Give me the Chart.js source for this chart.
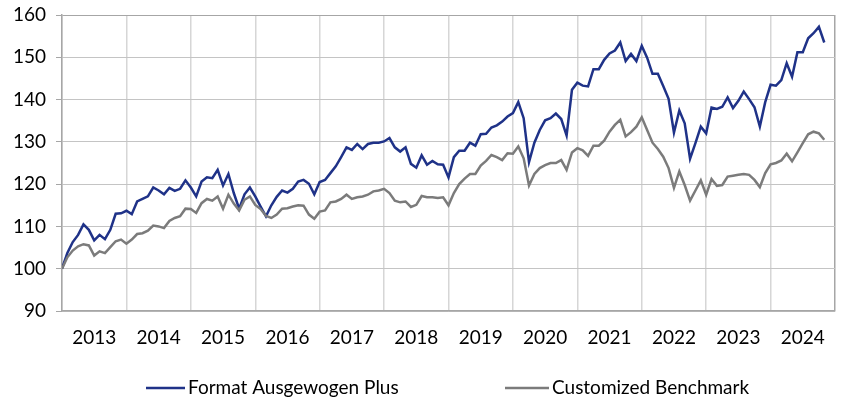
<!DOCTYPE html>
<html>
<head>
<meta charset="utf-8">
<script src="https://cdn.jsdelivr.net/npm/chart.js@4"></script>
<style>
  body { margin: 0; background: #fff; }
  #wrap { width: 850px; height: 401px; }
</style>
</head>
<body>
<div id="wrap"><canvas id="perfChart" width="850" height="401"></canvas></div>
<script>
// Monthly index values, month 0 = end of 2012 (=100)
const yearLabels = ['2013', '2014', '2015', '2016', '2017', '2018', '2019', '2020', '2021', '2022', '2023', '2024'];
const seriesNames = ['Format Ausgewogen Plus', 'Customized Benchmark'];

const fundValues = [
    100, 103.7, 106.3, 108, 110.5, 109.2, 106.7, 108, 107, 109.2,
    113, 113.1, 113.7, 112.9, 115.9, 116.5, 117.1, 119.2, 118.5, 117.6,
    119.1, 118.4, 118.9, 120.9, 119.2, 117.1, 120.6, 121.6, 121.4, 123.4,
    119.7, 122.4, 117.9, 114.2, 117.6, 119.2, 117.1, 114.7, 112.4, 115,
    117, 118.5, 118, 118.9, 120.6, 121, 120.1, 117.6, 120.5, 121,
    122.6, 124.2, 126.4, 128.7, 128.1, 129.5, 128.3, 129.5, 129.8, 129.8,
    130.1, 130.9, 128.7, 127.7, 128.7, 124.8, 123.9, 126.8, 124.6, 125.5,
    124.7, 124.6, 121.6, 126.4, 127.9, 127.9, 129.8, 129.1, 131.8, 131.9,
    133.4, 133.9, 134.8, 136, 136.8, 139.4, 135.6, 125.2, 129.8, 132.8,
    135.1, 135.6, 136.7, 135.4, 131.5, 142.3, 144, 143.3, 143.1, 147.2,
    147.2, 149.4, 150.9, 151.6, 153.5, 149.1, 150.8, 149.1, 152.7, 149.9,
    146.1, 146.1, 143.2, 140.2, 132.2, 137.4, 134.4, 126, 129.7, 133.6,
    132, 138.1, 137.8, 138.3, 140.5, 138, 139.7, 141.9, 140.1, 138.2,
    133.6, 139.4, 143.5, 143.3, 144.6, 148.6, 145.4, 151.2, 151.2, 154.5,
    155.7, 157.2, 153.5
];

const benchmarkValues = [
    100, 102.7, 104.3, 105.3, 105.8, 105.5, 103.1, 104.1, 103.7, 105.1,
    106.5, 106.9, 105.9, 106.9, 108.2, 108.4, 109, 110.2, 110, 109.6,
    111.3, 112, 112.4, 114.2, 114.1, 113.2, 115.5, 116.5, 116.1, 117.1,
    114.2, 117.5, 115.4, 113.8, 116.3, 117.1, 115.1, 114.1, 112.5, 112,
    112.8, 114.2, 114.3, 114.7, 115, 114.9, 112.8, 111.8, 113.5, 113.8,
    115.7, 115.9, 116.5, 117.5, 116.5, 116.9, 117.1, 117.5, 118.3, 118.5,
    118.9, 117.9, 116.1, 115.7, 115.9, 114.6, 115.1, 117.2, 116.9, 116.9,
    116.7, 116.9, 115, 117.9, 120, 121.3, 122.4, 122.4, 124.4, 125.5,
    126.9, 126.4, 125.7, 127.3, 127.2, 128.9, 126.1, 119.7, 122.4, 123.8,
    124.5, 125, 125, 125.7, 123.4, 127.5, 128.5, 128, 126.7, 129.1,
    129.1, 130.3, 132.4, 134, 135.2, 131.3, 132.3, 133.6, 135.8, 132.8,
    129.8, 128.3, 126.5, 123.8, 119.1, 123, 119.8, 116.1, 118.5, 120.9,
    117.5, 121.2, 119.6, 119.8, 121.8, 122, 122.2, 122.4, 122.2, 121,
    119.3, 122.6, 124.7, 125, 125.6, 127.2, 125.4, 127.5, 129.7, 131.8,
    132.4, 132, 130.5
];

const lineColors = ['#1f3288', '#7b7b7b'];
const fontFamily = 'Lato, "Open Sans", sans-serif';
const monthsTotal = yearLabels.length * 12;

function toPoints(values) {
    return values.map((v, i) => ({ x: i, y: v }));
}

// Legend drawn below the axis, Excel-style line samples
const bottomLegend = {
    id: 'bottomLegend',
    afterDraw(chart) {
        const ctx = chart.ctx;
        const items = [
            { x0: 146, x1: 185, tx: 188 },
            { x0: 505, x1: 549, tx: 552 }
        ];
        const y = 388;
        ctx.save();
        ctx.font = '19px ' + fontFamily;
        ctx.textBaseline = 'middle';
        ctx.textAlign = 'left';
        items.forEach((it, i) => {
            ctx.strokeStyle = lineColors[i];
            ctx.lineWidth = 2.5;
            ctx.beginPath();
            ctx.moveTo(it.x0, y);
            ctx.lineTo(it.x1, y);
            ctx.stroke();
            ctx.fillStyle = '#000';
            ctx.fillText(seriesNames[i], it.tx, y);
        });
        ctx.restore();
    }
};

const ctx = document.getElementById('perfChart').getContext('2d');
new Chart(ctx, {
    type: 'line',
    data: {
        datasets: [{
            label: seriesNames[0],
            data: toPoints(fundValues),
            borderColor: lineColors[0],
            borderWidth: 2.5,
            pointRadius: 0,
            tension: 0,
            order: 1
        }, {
            label: seriesNames[1],
            data: toPoints(benchmarkValues),
            borderColor: lineColors[1],
            borderWidth: 2.5,
            pointRadius: 0,
            tension: 0,
            order: 0
        }]
    },
    options: {
        responsive: false,
        animation: false,
        devicePixelRatio: 1,
        layout: { padding: { top: 15, right: 7, left: 0, bottom: 0 } },
        plugins: {
            legend: { display: false },
            tooltip: { enabled: false }
        },
        scales: {
            x: {
                type: 'linear',
                min: 0,
                max: monthsTotal,
                afterBuildTicks: function (scale) {
                    const t = [];
                    for (let v = 0; v <= monthsTotal; v += 6) t.push({ value: v });
                    scale.ticks = t;
                },
                afterFit: function (scale) { scale.height = 90; },
                grid: {
                    drawTicks: false,
                    lineWidth: 1.5,
                    color: function (c) {
                        if (!c.tick || c.tick.value % 12 !== 0) return 'rgba(0,0,0,0)';
                        return c.tick.value === monthsTotal ? '#a6a6a6' : '#d6d6d6';
                    }
                },
                border: { display: true, color: '#a6a6a6', width: 1.5 },
                ticks: {
                    autoSkip: false,
                    maxRotation: 0,
                    padding: 15,
                    color: '#000',
                    font: { family: fontFamily, size: 19 },
                    callback: function (value) {
                        return value % 12 === 6 ? yearLabels[(value - 6) / 12] : '';
                    }
                }
            },
            y: {
                min: 90,
                max: 160,
                afterFit: function (scale) {
                    scale.width = 62;
                    scale.paddingTop = 0;
                },
                grid: {
                    tickLength: 6,
                    tickColor: '#a6a6a6',
                    color: function (c) {
                        return c.tick && c.tick.value === 160 ? '#a6a6a6' : '#c4c4c4';
                    }
                },
                border: { display: true, color: '#a6a6a6', width: 1.5 },
                ticks: {
                    stepSize: 10,
                    padding: 10,
                    color: '#000',
                    font: { family: fontFamily, size: 19 }
                }
            }
        }
    },
    plugins: [bottomLegend]
});
</script>
</body>
</html>
